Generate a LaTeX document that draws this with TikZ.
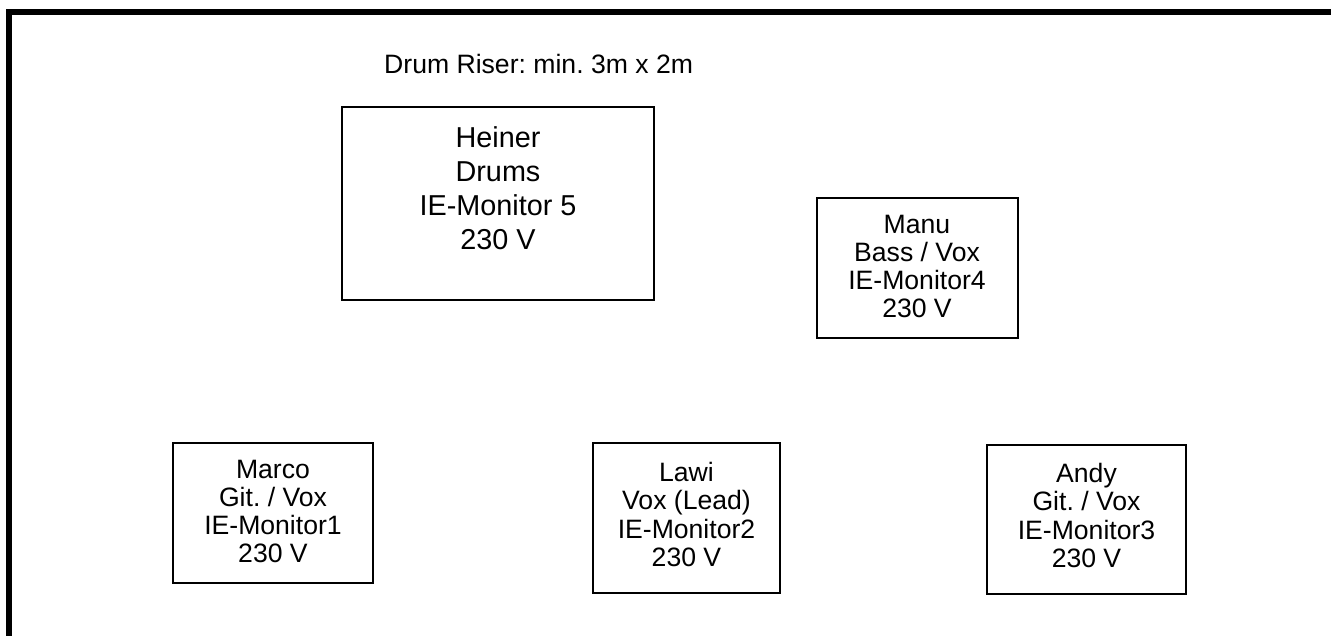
\documentclass[tikz,border=0pt]{standalone}
\usepackage{fontspec}
\setmainfont{Liberation Sans}
\frenchspacing
\begin{document}
\frenchspacing
\begin{tikzpicture}[x=1pt,y=-1pt,
  stagebox/.style={draw=black, line width=1.2pt, inner sep=0pt},
  bigtxt/.style={inner sep=0pt, align=center, font=\fontsize{28.8}{34}\selectfont},
  smalltxt/.style={inner sep=0pt, align=center, font=\fontsize{26.6}{28.3}\selectfont},
  frame/.style={line width=6pt, line join=miter}]
\useasboundingbox (0,0) rectangle (1331,636);
\fill[white] (0,0) rectangle (1331,636);
% outer frame (left and top edges)
\coordinate (fbl) at (9,636);
\coordinate (ftl) at (9,12);
\coordinate (ftr) at (1331,12);
\draw[frame] (fbl) -- (ftl) -- (ftr);
% title
\node[inner sep=0pt, anchor=base west, font=\fontsize{26.6}{28.3}\selectfont] (title) at (384,74) {Drum Riser: min. 3m x 2m};
% boxes
\node[stagebox, minimum width=312pt, minimum height=193pt] (heinerbox) at (498,203.5) {};
\node[bigtxt] (heiner) at (498,188) {Heiner\\Drums\\IE-Monitor 5\\230 V};
\node[stagebox, minimum width=201pt, minimum height=140pt] (manubox) at (917.5,268) {};
\node[smalltxt] (manu) at (917,266.5) {Manu\\Bass / Vox\\IE-Monitor4\\230 V};
\node[stagebox, minimum width=200pt, minimum height=140pt] (marcobox) at (273,513) {};
\node[smalltxt] (marco) at (273,511.5) {Marco\\Git. / Vox\\IE-Monitor1\\230 V};
\node[stagebox, minimum width=187pt, minimum height=150pt] (lawibox) at (686.5,518) {};
\node[smalltxt] (lawi) at (686.5,514.5) {Lawi\\Vox (Lead)\\IE-Monitor2\\230 V};
\node[stagebox, minimum width=199pt, minimum height=149pt] (andybox) at (1086.5,519.5) {};
\node[smalltxt] (andy) at (1086.5,515.5) {Andy\\Git. / Vox\\IE-Monitor3\\230 V};
\end{tikzpicture}
\end{document}
